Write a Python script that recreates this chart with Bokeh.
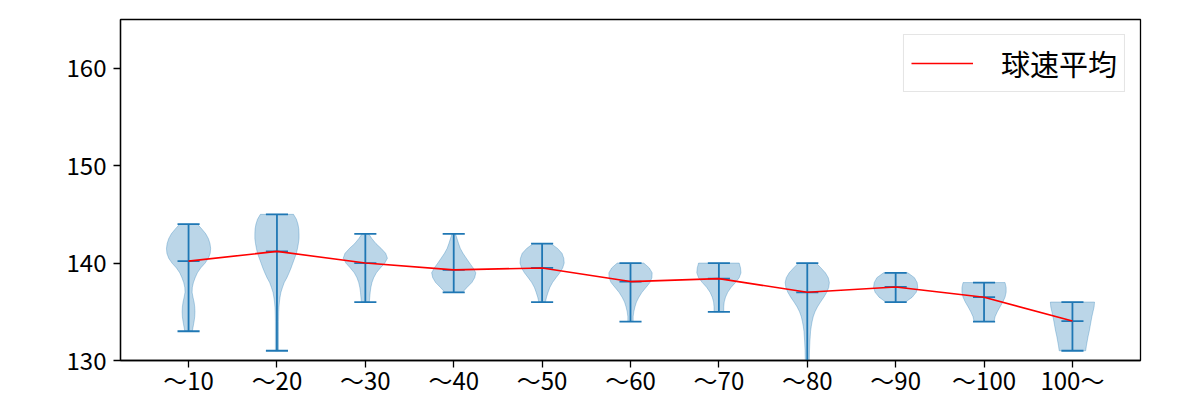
from bokeh.plotting import figure
from bokeh.models import FixedTicker, Range1d, Legend, LegendItem
from bokeh.embed import file_html
from bokeh.resources import INLINE

# ---- data ----
categories = ["〜10", "〜20", "〜30", "〜40", "〜50", "〜60", "〜70", "〜80", "〜90", "〜100", "100〜"]
speed_max = [144, 145, 143, 143, 142, 140, 140, 140, 139, 138, 136]
speed_min = [133, 131, 136, 137, 136, 134, 135, 129, 136, 134, 131]
speed_mean = [140.2, 141.2, 140.0, 139.3, 139.5, 138.1, 138.4, 137.0, 137.55, 136.5, 134.05]

# violin outlines: speed levels and relative half-widths (1 = widest)
levels_1 = [144, 143.5, 143, 142.5, 142, 141.5, 141, 140.5, 140, 139.5, 139, 138.5, 138, 137.5, 137, 136.5, 136, 135.5, 135, 134.5, 134, 133.5, 133]
widths_1 = [0.4, 0.6, 0.78, 0.9, 0.97, 1.0, 0.98, 0.9, 0.75, 0.55, 0.4, 0.3, 0.22, 0.17, 0.16, 0.2, 0.25, 0.28, 0.29, 0.28, 0.25, 0.21, 0.17]
levels_2 = [145, 144.5, 144, 143.5, 143, 142.5, 142, 141.5, 141, 140.5, 140, 139.5, 139, 138.5, 138, 137.5, 137, 136.5, 136, 135.5, 135, 134, 133, 132, 131]
widths_2 = [0.75, 0.88, 0.95, 0.99, 1.0, 1.0, 0.97, 0.93, 0.88, 0.8, 0.72, 0.64, 0.55, 0.45, 0.33, 0.25, 0.18, 0.14, 0.11, 0.09, 0.08, 0.07, 0.07, 0.07, 0.07]
levels_3 = [143, 142.5, 142, 141.5, 141, 140.5, 140, 139.5, 139, 138.5, 138, 137.5, 137, 136.5, 136]
widths_3 = [0.15, 0.3, 0.48, 0.72, 0.92, 1.0, 0.88, 0.68, 0.5, 0.38, 0.3, 0.25, 0.22, 0.2, 0.18]
levels_4 = [143, 142.5, 142, 141.5, 141, 140.5, 140, 139.5, 139, 138.5, 138, 137.5, 137]
widths_4 = [0.08, 0.15, 0.22, 0.3, 0.42, 0.57, 0.72, 0.88, 1.0, 0.95, 0.82, 0.6, 0.4]
levels_5 = [142, 141.5, 141, 140.5, 140, 139.5, 139, 138.5, 138, 137.5, 137, 136.5, 136]
widths_5 = [0.4, 0.7, 0.9, 0.98, 1.0, 0.93, 0.8, 0.63, 0.47, 0.35, 0.27, 0.2, 0.15]
levels_6 = [140, 139.5, 139, 138.5, 138, 137.5, 137, 136.5, 136, 135.5, 135, 134.5, 134]
widths_6 = [0.6, 0.85, 0.98, 0.97, 0.88, 0.7, 0.52, 0.38, 0.27, 0.2, 0.15, 0.12, 0.12]
levels_7 = [140, 139.5, 139, 138.5, 138, 137.5, 137, 136.5, 136, 135.5, 135]
widths_7 = [0.92, 0.98, 1.0, 0.92, 0.75, 0.55, 0.4, 0.3, 0.24, 0.22, 0.22]
levels_8 = [140, 139.5, 139, 138.5, 138, 137.5, 137, 136.5, 136, 135.5, 135, 134.5, 134, 133.5, 133, 132, 131, 130, 129]
widths_8 = [0.4, 0.62, 0.82, 0.95, 1.0, 0.97, 0.88, 0.75, 0.6, 0.46, 0.35, 0.27, 0.22, 0.18, 0.15, 0.12, 0.1, 0.09, 0.08]
levels_9 = [139, 138.5, 138, 137.5, 137, 136.5, 136]
widths_9 = [0.55, 0.85, 0.97, 1.0, 0.93, 0.75, 0.45]
levels_10 = [138, 137.5, 137, 136.5, 136, 135.5, 135, 134.5, 134]
widths_10 = [0.95, 1.0, 1.0, 0.95, 0.85, 0.72, 0.6, 0.5, 0.45]
levels_11 = [136, 135.5, 135, 134.5, 134, 133.5, 133, 132.5, 132, 131.5, 131]
widths_11 = [1.0, 0.98, 0.93, 0.88, 0.84, 0.8, 0.76, 0.71, 0.67, 0.63, 0.6]

all_levels = [levels_1, levels_2, levels_3, levels_4, levels_5, levels_6, levels_7, levels_8, levels_9, levels_10, levels_11]
all_widths = [widths_1, widths_2, widths_3, widths_4, widths_5, widths_6, widths_7, widths_8, widths_9, widths_10, widths_11]

y_ticks = [130, 140, 150, 160]

# ---- styling ----
BLUE = "#1f77b4"
FONT = "Noto Sans CJK JP"
HALF = 0.25   # half of violin width (data units)
CAP = 0.125   # half of cap length

positions = list(range(1, len(categories) + 1))

p = figure(width=1200, height=400, output_backend="svg", toolbar_location=None,
           x_range=Range1d(0.23, 11.77), y_range=Range1d(130, 165),
           min_border_left=120, min_border_right=60, min_border_top=19, min_border_bottom=40)

# violin bodies
xs, ys = [], []
for pos, lv, wd in zip(positions, all_levels, all_widths):
    right_x = [pos + HALF * w for w in wd]
    left_x = [pos - HALF * w for w in reversed(wd)]
    xs.append(right_x + left_x)
    ys.append(list(lv) + list(reversed(lv)))
p.patches(xs, ys, fill_color=BLUE, fill_alpha=0.3, line_color=BLUE, line_alpha=0.3, line_width=1)

# vertical bars
p.segment(x0=positions, y0=speed_min, x1=positions, y1=speed_max, line_color=BLUE, line_width=1.8)
# caps (max, min, mean)
for vals in (speed_max, speed_min, speed_mean):
    p.segment(x0=[x - CAP for x in positions], y0=vals, x1=[x + CAP for x in positions], y1=vals,
              line_color=BLUE, line_width=1.8)

# mean line
mean_line = p.line(positions, speed_mean, line_color="red", line_width=1.6)

legend = Legend(items=[LegendItem(label="球速平均", renderers=[mean_line])], location="top_right")
legend.label_text_font = FONT
legend.label_text_font_size = "29px"
legend.label_text_color = "black"
legend.glyph_width = 62
legend.glyph_height = 30
legend.label_height = 30
legend.label_standoff = 28
legend.padding = 7
legend.margin = 15
legend.border_line_color = "#cccccc"
legend.border_line_width = 1
legend.background_fill_alpha = 0.8
p.add_layout(legend)

# axes
p.xaxis.ticker = FixedTicker(ticks=positions)
p.xaxis.major_label_overrides = {pos: lab for pos, lab in zip(positions, categories)}
p.yaxis.ticker = FixedTicker(ticks=y_ticks)
for ax in (p.xaxis[0], p.yaxis[0]):
    ax.major_label_text_font = FONT
    ax.major_label_text_font_size = "24px"
    ax.major_label_text_color = "black"
    ax.axis_line_color = "black"
    ax.axis_line_width = 1.3
    ax.major_tick_line_color = "black"
    ax.major_tick_line_width = 1.3
    ax.major_tick_in = 0
    ax.major_tick_out = 7
    ax.minor_tick_line_color = None
p.xaxis.major_label_standoff = -6
p.yaxis.major_label_standoff = 7
p.xgrid.grid_line_color = None
p.ygrid.grid_line_color = None
p.outline_line_color = "black"
p.outline_line_width = 1.3
p.outline_line_alpha = 1
p.background_fill_color = "white"
p.border_fill_color = "white"

open("out.html", "w").write(file_html(p, INLINE))
